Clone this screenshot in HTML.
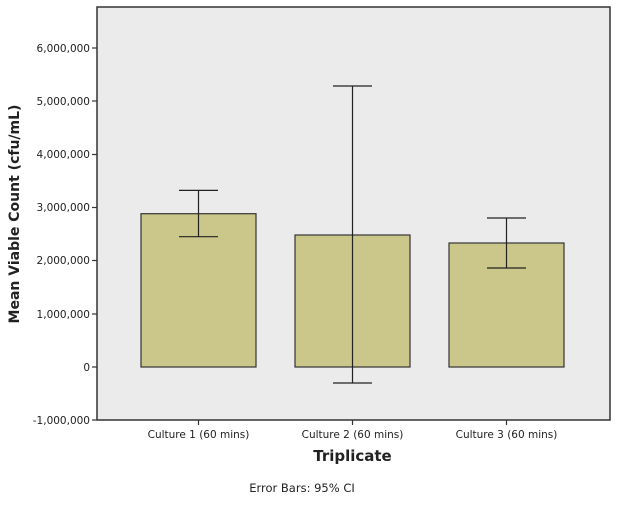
<!DOCTYPE html>
<html><head><style>body{margin:0;background:#fff}</style></head><body>
<svg width="617" height="503" xmlns="http://www.w3.org/2000/svg" font-family="'DejaVu Sans','Liberation Sans',sans-serif">
<rect x="97" y="7" width="513" height="413" fill="#ebebeb" stroke="#333" stroke-width="1.5"/>
<g stroke="#333" stroke-width="1.2">
<line x1="92" y1="48" x2="97" y2="48"/><line x1="92" y1="101" x2="97" y2="101"/><line x1="92" y1="154.5" x2="97" y2="154.5"/><line x1="92" y1="207.5" x2="97" y2="207.5"/><line x1="92" y1="260.5" x2="97" y2="260.5"/><line x1="92" y1="314" x2="97" y2="314"/><line x1="92" y1="367" x2="97" y2="367"/><line x1="92" y1="420" x2="97" y2="420"/>
<line x1="198.5" y1="420" x2="198.5" y2="425"/><line x1="352.5" y1="420" x2="352.5" y2="425"/><line x1="506.5" y1="420" x2="506.5" y2="425"/>
</g>
<g font-size="10.5" fill="#222" text-anchor="end">
<text x="90" y="52">6,000,000</text><text x="90" y="105">5,000,000</text><text x="90" y="158">4,000,000</text><text x="90" y="211">3,000,000</text><text x="90" y="264">2,000,000</text><text x="90" y="318">1,000,000</text><text x="90" y="371">0</text><text x="90" y="424">-1,000,000</text>
</g>
<g fill="#cbc68a" stroke="#333" stroke-width="1.2">
<rect x="141" y="213.7" width="115" height="153.3"/>
<rect x="295" y="235" width="115" height="132"/>
<rect x="449" y="243" width="115" height="124"/>
</g>
<g stroke="#222" stroke-width="1.2">
<line x1="198.5" y1="190.4" x2="198.5" y2="236.7"/><line x1="179" y1="190.4" x2="218" y2="190.4"/><line x1="179" y1="236.7" x2="218" y2="236.7"/>
<line x1="352.5" y1="86" x2="352.5" y2="383"/><line x1="333" y1="86" x2="372" y2="86"/><line x1="333" y1="383" x2="372" y2="383"/>
<line x1="506.5" y1="218" x2="506.5" y2="268"/><line x1="487" y1="218" x2="526" y2="218"/><line x1="487" y1="268" x2="526" y2="268"/>
</g>
<g font-size="10.5" fill="#222" text-anchor="middle">
<text x="198.5" y="438">Culture 1 (60 mins)</text><text x="352.5" y="438">Culture 2 (60 mins)</text><text x="506.5" y="438">Culture 3 (60 mins)</text>
</g>
<text x="352.5" y="461" font-size="15" font-weight="bold" text-anchor="middle" fill="#222">Triplicate</text>
<text x="302" y="492" font-size="11.5" text-anchor="middle" fill="#222">Error Bars: 95% CI</text>
<text transform="translate(19,214) rotate(-90)" font-size="14" font-weight="bold" text-anchor="middle" fill="#222">Mean Viable Count (cfu/mL)</text>
</svg>
</body></html>
